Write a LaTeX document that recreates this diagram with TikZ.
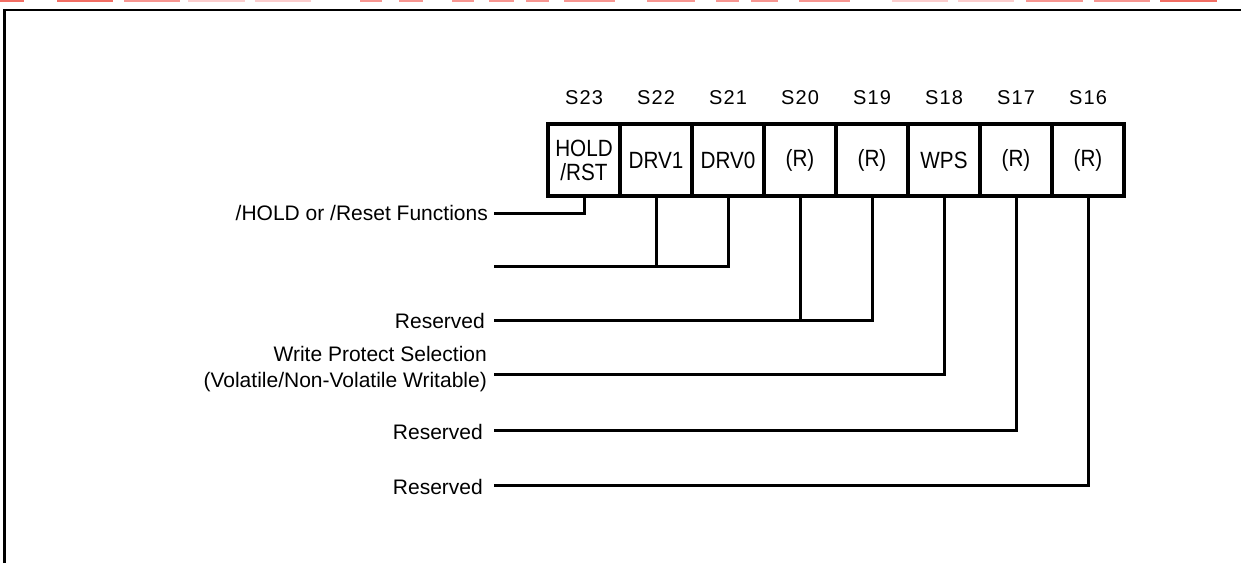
\documentclass[tikz,border=0pt]{standalone}
\usepackage{fontspec}
\setmainfont{Liberation Sans}
\newfontfamily\cellfont[FakeStretch=0.88]{Liberation Sans}
\newfontfamily\hdrfont[LetterSpace=6]{Liberation Sans}
\definecolor{redA}{RGB}{242,110,100}
\definecolor{redB}{RGB}{247,150,145}
\definecolor{redC}{RGB}{251,205,205}
\begin{document}
\begin{tikzpicture}[x=1pt,y=-1pt,
  cell/.style={draw, line width=4pt, minimum width=72pt, minimum height=72pt, inner sep=0pt, outer sep=0pt,
    font=\cellfont\fontsize{23.5}{24}\selectfont, align=center},
  hdr/.style={font=\hdrfont\fontsize{20}{22}\selectfont, inner sep=0pt},
  lbl/.style={font=\fontsize{21}{26}\selectfont, anchor=east, inner sep=0pt, align=right},
  wire/.style={line width=3pt, line join=miter, line cap=butt},
  frame/.style={line width=2.5pt, line join=miter}]
\useasboundingbox (0,0) rectangle (1241,563);
% cropped red fragments at the very top
\foreach \a/\b/\c in {0/24/redA,57/113/redA,124/180/redB,188/245/redC,255/311/redC,360/382/redB,399/423/redB,
  452/474/redB,489/514/redB,526/549/redB,564/615/redB,647/695/redB,716/739/redB,751/778/redB,799/850/redB,
  892/948/redC,958/1014/redC,1026/1083/redB,1094/1150/redB,1160/1217/redA}
  {\fill[\c] (\a,0) rectangle (\b,1.6);}
% frame
\draw[frame] (4.5,563) -- (4.5,10) -- (1241,10);
% header labels
\node[hdr] (h1) at (584,98) {S23};
\node[hdr] (h2) at (656,98) {S22};
\node[hdr] (h3) at (728,98) {S21};
\node[hdr] (h4) at (800,98) {S20};
\node[hdr] (h5) at (872,98) {S19};
\node[hdr] (h6) at (944,98) {S18};
\node[hdr] (h7) at (1016,98) {S17};
\node[hdr] (h8) at (1088,98) {S16};
% register cells
\node[cell] (c1) at (584,160) {HOLD\\/RST};
\node[cell] (c2) at (656,160) {DRV1};
\node[cell] (c3) at (728,160) {DRV0};
\node[cell] (c4) at (800,160) {(R)};
\node[cell] (c5) at (872,160) {(R)};
\node[cell] (c6) at (944,160) {WPS};
\node[cell] (c7) at (1016,160) {(R)};
\node[cell] (c8) at (1088,160) {(R)};
% labels
\node[lbl] (l1) at (488,213) {/HOLD or /Reset Functions};
\node[lbl] (l3) at (485,321) {Reserved};
\node[lbl] (l4) at (487,369) {Write Protect Selection\\(Volatile/Non-Volatile Writable)};
\node[lbl] (l5) at (483,432) {Reserved};
\node[lbl] (l6) at (483,487) {Reserved};
% wire ends
\coordinate (w1) at (494,213);
\coordinate (w2) at (494,266);
\coordinate (w3) at (494,320);
\coordinate (w4) at (494,374);
\coordinate (w5) at (494,430);
\coordinate (w6) at (494,485);
% wires
\draw[wire] (c1.south) |- (w1);
\draw[wire] (c3.south) |- (w2);
\draw[wire] (c2.south) -- (c2.south |- w2);
\draw[wire] (c5.south) |- (w3);
\draw[wire] (c4.south) -- (c4.south |- w3);
\draw[wire] (c6.south) |- (w4);
\draw[wire] (c7.south) |- (w5);
\draw[wire] (c8.south) |- (w6);
\end{tikzpicture}
\end{document}
